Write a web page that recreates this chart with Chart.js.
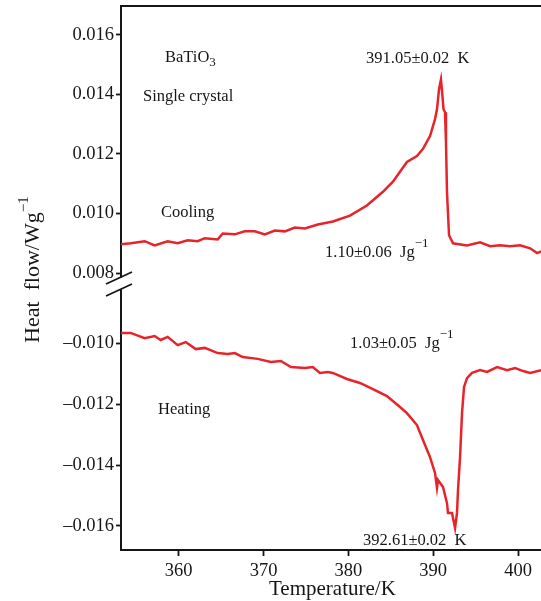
<!DOCTYPE html>
<html lang="en">
<head>
<meta charset="UTF-8">
<title>BaTiO3 heat flow</title>
<script src="https://cdn.jsdelivr.net/npm/chart.js"></script>
<style>
  html, body { margin: 0; padding: 0; background: #fff; overflow: hidden; }
</style>
</head>
<body>
<canvas id="dsc" width="541" height="601"></canvas>
<script>
// cooling run (upper panel), T in K, heat flow in W/g
const coolTemp = [353.16, 354.34, 355.99, 357.17, 358.70, 359.88, 361.06, 362.24, 363.07, 364.60,
  365.19, 366.61, 367.79, 368.97, 370.15, 371.33, 372.51, 373.69, 374.87, 376.40,
  377.58, 378.17, 380.18, 382.18, 384.07, 385.25, 386.08, 386.90, 388.08, 388.79,
  389.62, 390.21, 390.44, 390.68, 390.91, 391.09, 391.21, 391.39, 391.50, 391.62,
  391.86, 392.33, 393.98, 395.52, 396.70, 397.88, 399.06, 400.24, 401.42, 402.24, 402.71];
const coolFlow = [0.00897, 0.00900, 0.00907, 0.00893, 0.00907, 0.00900, 0.00910, 0.00907, 0.00917, 0.00913,
  0.00933, 0.00930, 0.00940, 0.00940, 0.00930, 0.00943, 0.00940, 0.00953, 0.00950, 0.00963,
  0.00970, 0.00973, 0.00993, 0.01027, 0.01073, 0.01107, 0.01140, 0.01173, 0.01193, 0.01217,
  0.01260, 0.01317, 0.01350, 0.01417, 0.01450, 0.01393, 0.01350, 0.01340, 0.01240, 0.01073,
  0.00927, 0.00900, 0.00893, 0.00903, 0.00890, 0.00893, 0.00890, 0.00893, 0.00883, 0.00867, 0.00873];

// heating run (lower panel)
const heatTemp = [353.16, 354.34, 355.99, 357.17, 357.88, 358.70, 359.88, 360.83, 362.01, 363.07,
  364.60, 365.78, 366.61, 367.55, 369.32, 370.86, 372.04, 373.22, 374.87, 375.81,
  376.64, 377.58, 378.17, 379.82, 381.36, 382.89, 384.54, 386.08, 386.90, 388.08,
  388.79, 389.62, 390.21, 390.44, 390.56, 391.15, 391.62, 391.74, 392.21, 392.57,
  392.80, 392.92, 393.16, 393.39, 393.63, 393.98, 394.57, 395.52, 396.34, 397.52,
  398.70, 399.65, 400.59, 401.42, 402.71];
const heatFlow = [-0.00967, -0.00967, -0.00984, -0.00977, -0.00990, -0.00980, -0.01007, -0.00997, -0.01020, -0.01016,
  -0.01033, -0.01036, -0.01033, -0.01046, -0.01052, -0.01062, -0.01059, -0.01079, -0.01082, -0.01079,
  -0.01098, -0.01095, -0.01098, -0.01118, -0.01131, -0.01151, -0.01174, -0.01210, -0.01230, -0.01269,
  -0.01318, -0.01374, -0.01426, -0.01475, -0.01449, -0.01472, -0.01525, -0.01557, -0.01557, -0.01607,
  -0.01557, -0.01482, -0.01374, -0.01230, -0.01144, -0.01115, -0.01098, -0.01089, -0.01095, -0.01079,
  -0.01089, -0.01082, -0.01092, -0.01098, -0.01089];

const xTicks = [360, 370, 380, 390, 400];
const yTopTicks = [0.008, 0.010, 0.012, 0.014, 0.016];
const yBotTicks = [-0.016, -0.014, -0.012, -0.010];

const RED = 'rgb(230, 36, 42)';
const INK = '#161616';
const SERIF = '"Liberation Serif", "Times New Roman", serif';

function tickFont() { return { family: SERIF, size: 18.5 }; }

// writes text, optional superscript / subscript parts
function write(ctx, parts, x, y) {
  let cx = x;
  parts.forEach(p => {
    ctx.font = p.size + 'px ' + SERIF;
    ctx.fillText(p.t, cx, y + (p.dy || 0));
    cx += ctx.measureText(p.t).width + (p.gap || 0);
  });
}

const decor = {
  id: 'decor',
  afterDraw(chart) {
    const ctx = chart.ctx;
    const a = chart.chartArea;
    const yb = chart.scales.yTop.bottom;
    ctx.save();
    // frame top
    ctx.strokeStyle = INK;
    ctx.lineWidth = 2;
    ctx.beginPath();
    ctx.moveTo(a.left - 1, a.top);
    ctx.lineTo(a.right, a.top);
    ctx.stroke();

    // axis break
    ctx.fillStyle = '#fff';
    ctx.fillRect(a.left - 3, yb - 2, 6, 11);
    ctx.lineWidth = 1.8;
    ctx.beginPath();
    ctx.moveTo(a.left - 15, yb + 4);
    ctx.lineTo(a.left + 11, yb - 8);
    ctx.moveTo(a.left - 15, yb + 16);
    ctx.lineTo(a.left + 11, yb + 4);
    ctx.stroke();

    ctx.fillStyle = INK;
    ctx.textBaseline = 'alphabetic';
    ctx.textAlign = 'left';
    const s = 16.5;
    write(ctx, [{ t: 'BaTiO', size: s }, { t: '3', size: 13, dy: 4 }], 165, 62);
    write(ctx, [{ t: 'Single crystal', size: s }], 143, 101);
    write(ctx, [{ t: '391.05\u00b10.02  K', size: s }], 366, 63);
    write(ctx, [{ t: 'Cooling', size: s }], 161, 217);
    write(ctx, [{ t: '1.10\u00b10.06  Jg', size: s }, { t: '\u22121', size: 13, dy: -10 }], 325, 257);
    write(ctx, [{ t: '1.03\u00b10.05  Jg', size: s }, { t: '\u22121', size: 13, dy: -10 }], 350, 348);
    write(ctx, [{ t: 'Heating', size: s }], 158, 414);
    write(ctx, [{ t: '392.61\u00b10.02  K', size: s }], 363, 545);

    // axis titles
    write(ctx, [{ t: 'Temperature/K', size: 21 }], 269, 595);
    ctx.translate(39, 343);
    ctx.rotate(-Math.PI / 2);
    write(ctx, [{ t: 'Heat  flow/Wg', size: 22 }, { t: '\u22121', size: 15, dy: -11 }], 0, 0);
    ctx.restore();
  }
};

const axisGrid = { display: true, drawOnChartArea: false, tickLength: 5, tickWidth: 1.8, tickColor: INK };
const axisBorder = { color: INK, width: 2 };

function fitY(s) {
  s.width = 121;
  s.paddingTop = 0;
  s.paddingBottom = 0;
}

new Chart(document.getElementById('dsc'), {
  type: 'line',
  data: {
    datasets: [
      {
        label: 'Cooling',
        data: coolTemp.map((t, i) => ({ x: t, y: coolFlow[i] })),
        yAxisID: 'yTop',
        borderColor: RED,
        borderWidth: 2.5,
        pointRadius: 0,
        tension: 0
      },
      {
        label: 'Heating',
        data: heatTemp.map((t, i) => ({ x: t, y: heatFlow[i] })),
        yAxisID: 'yBot',
        borderColor: RED,
        borderWidth: 2.5,
        pointRadius: 0,
        tension: 0
      }
    ]
  },
  options: {
    responsive: false,
    animation: false,
    devicePixelRatio: 1,
    layout: { padding: { top: 6, left: 0, right: 0, bottom: 0 } },
    plugins: { legend: { display: false }, tooltip: { enabled: false } },
    scales: {
      x: {
        type: 'linear',
        min: 353.2,
        max: 402.7,
        afterBuildTicks: s => { s.ticks = xTicks.map(v => ({ value: v })); },
        afterFit: s => { s.height = 51; s.paddingLeft = 0; s.paddingRight = 0; },
        grid: Object.assign({}, axisGrid, { tickLength: 6 }),
        border: axisBorder,
        ticks: { font: tickFont(), color: INK, padding: 4, maxRotation: 0 }
      },
      // lower panel is listed first: the stack is laid out bottom-up
      yBot: {
        type: 'linear',
        position: 'left',
        stack: 'heat',
        stackWeight: 270,
        min: -0.016787,
        max: -0.007934,
        afterBuildTicks: s => { s.ticks = yBotTicks.map(v => ({ value: v })); },
        afterFit: fitY,
        grid: axisGrid,
        border: axisBorder,
        ticks: { font: tickFont(), color: INK, padding: 2, callback: v => '\u2013' + Math.abs(v).toFixed(3) }
      },
      yTop: {
        type: 'linear',
        position: 'left',
        stack: 'heat',
        stackWeight: 274,
        min: 0.007767,
        max: 0.016967,
        afterBuildTicks: s => { s.ticks = yTopTicks.map(v => ({ value: v })); },
        afterFit: fitY,
        grid: axisGrid,
        border: axisBorder,
        ticks: { font: tickFont(), color: INK, padding: 2, callback: v => v.toFixed(3) }
      }
    }
  },
  plugins: [decor]
});
</script>
</body>
</html>
